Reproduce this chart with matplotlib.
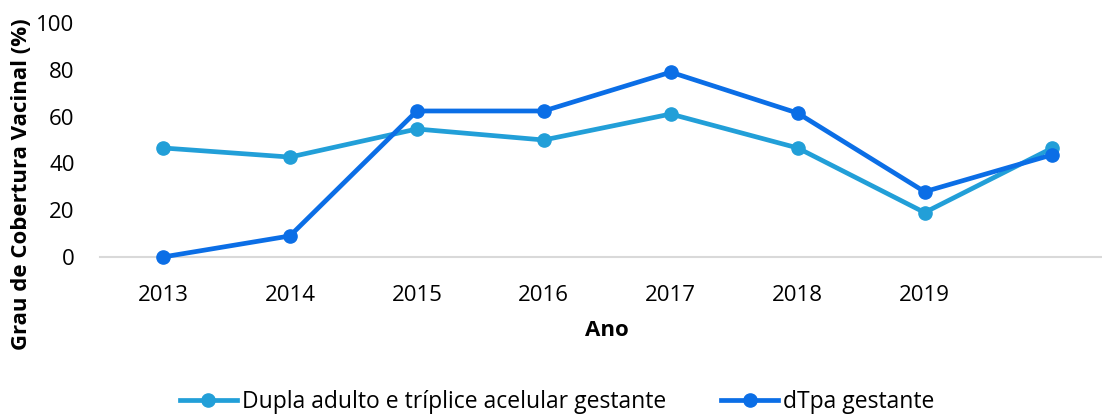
import numpy as np
import matplotlib.pyplot as plt

plt.rcParams['font.family'] = ['Open Sans', 'DejaVu Sans']

years = ['2013', '2014', '2015', '2016', '2017', '2018', '2019', '']
dupla = [46.6, 42.7, 54.7, 50.0, 61.1, 46.6, 19.0, 46.4]
dtpa = [0.0, 9.0, 62.4, 62.4, 79.0, 61.5, 27.9, 43.6]
yticks = [0, 20, 40, 60, 80, 100]

W, H = 1102, 416
fig = plt.figure(figsize=(W / 100, H / 100), dpi=100)
# axis spans beyond the right edge (chart is cropped in the reference)
ax = fig.add_axes([99.5 / W, 159 / H, (1115 - 99.5) / W, 234 / H])

x = np.arange(len(years))
ax.plot(x, dupla, color='#229FD8', lw=3.4, marker='o', ms=9.5,
        label='Dupla adulto e tríplice acelular gestante', clip_on=False, zorder=3)
ax.plot(x, dtpa, color='#0B6EE6', lw=3.4, marker='o', ms=9.5,
        label='dTpa gestante', clip_on=False, zorder=4)

ax.set_xlim(-0.5, len(years) - 0.5)
ax.set_ylim(0, 100)
ax.set_xticks(x)
ax.set_xticklabels(years)
ax.set_yticks(yticks)
ax.tick_params(length=0, labelsize=16, colors='#000000')
ax.tick_params(axis='x', pad=20)
ax.tick_params(axis='y', pad=18)
for s in ['top', 'right', 'left']:
    ax.spines[s].set_visible(False)
ax.spines['bottom'].set_color('#d9d9d9')
ax.spines['bottom'].set_linewidth(1.5)

fig.text(607 / W, 1 - 331 / H, 'Ano', ha='center', va='center',
         fontsize=16, fontweight='bold')
fig.text(22 / W, 1 - 184 / H, 'Grau de Cobertura Vacinal (%)', ha='center',
         va='center', rotation=90, fontsize=16, fontweight='bold')

leg = fig.legend(loc='center', bbox_to_anchor=(557 / W, 1 - 402 / H), ncol=2,
                 frameon=False, fontsize=16.5, handlelength=2.5,
                 handletextpad=0.2, columnspacing=2.4)

fig.savefig('out.png', dpi=100)
